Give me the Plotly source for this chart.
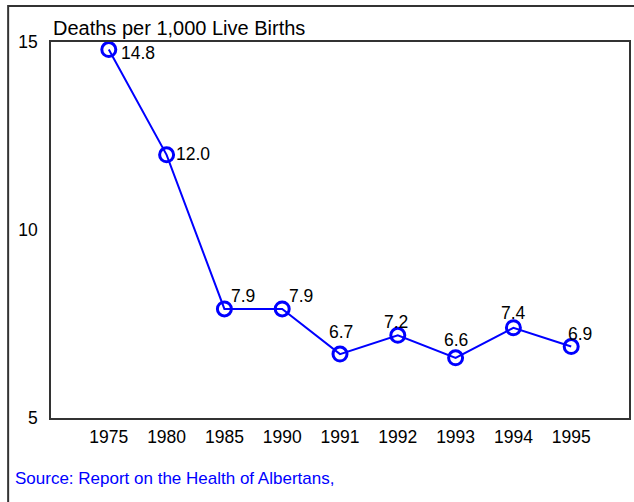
import plotly.graph_objects as go

years = ["1975", "1980", "1985", "1990", "1991", "1992", "1993", "1994", "1995"]
rates = [14.8, 12.0, 7.9, 7.9, 6.7, 7.2, 6.6, 7.4, 6.9]
label_text = ["14.8", "12.0", "7.9", "7.9", "6.7", "7.2", "6.6", "7.4", "6.9"]
y_ticks = [5, 10, 15]

# label placement (style): offsets in px
label_dx = [29, 26, 19, 19, 1, -2, 0, 0, 9]
label_dy = [-3, 1, 13, 13, 22, 13, 18, 15, 13]

W, H = 634, 502
ML, MR, MT, MB = 51, 3, 42, 84
PW, PH = W - ML - MR, H - MT - MB

def px(x):
    return (x - ML) / PW

def py(y):
    return (H - MB - y) / PH

BLUE = "#0000FF"
FONT = "Liberation Sans, Arial, sans-serif"

fig = go.Figure()
fig.add_trace(go.Scatter(
    x=years, y=rates, mode="lines+markers",
    line=dict(color=BLUE, width=2),
    marker=dict(symbol="circle-open", size=14, color=BLUE, line=dict(width=3, color=BLUE)),
    hoverinfo="skip", showlegend=False,
))

for i, (v, t, dx, dy) in enumerate(zip(rates, label_text, label_dx, label_dy)):
    fig.add_annotation(x=i, y=v, xref="x", yref="y", text=t, showarrow=False,
                       xshift=dx, yshift=dy,
                       font=dict(size=17.5, color="black", family=FONT))

fig.add_annotation(x=0, xref="paper", y=1 + (MT - 28) / PH, yref="paper",
                   text="Deaths per 1,000 Live Births", showarrow=False,
                   xanchor="left", yanchor="middle",
                   font=dict(size=20, color="black", family=FONT))
fig.add_annotation(x=px(13), xref="paper", y=py(478), yref="paper",
                   text="Source: Report on the Health of Albertans,", showarrow=False,
                   xanchor="left", yanchor="middle",
                   font=dict(size=17, color=BLUE, family=FONT))

# outer frame
fig.add_shape(type="rect", xref="paper", yref="paper",
              x0=px(8), x1=px(645), y0=py(520), y1=py(6),
              line=dict(color="#333333", width=2), layer="below")

fig.update_xaxes(type="category", range=[-1, len(years)], showline=True, mirror=True,
                 linecolor="#333333", linewidth=1.5, showgrid=False, zeroline=False,
                 ticks="", tickfont=dict(size=17.5, color="black", family=FONT),
                 ticklabelstandoff=2)
fig.update_yaxes(range=[5, 15], tickvals=y_ticks, showline=True, mirror=True,
                 linecolor="#333333", linewidth=1.5, showgrid=False, zeroline=False,
                 ticks="", tickfont=dict(size=17.5, color="black", family=FONT),
                 ticklabelstandoff=8)

fig.update_layout(width=W, height=H, margin=dict(l=ML, r=MR, t=MT, b=MB),
                  paper_bgcolor="white", plot_bgcolor="white",
                  font=dict(family=FONT))

fig.write_html("out.html", config={"displayModeBar": False},
               post_script="document.body.style.margin='0';")
